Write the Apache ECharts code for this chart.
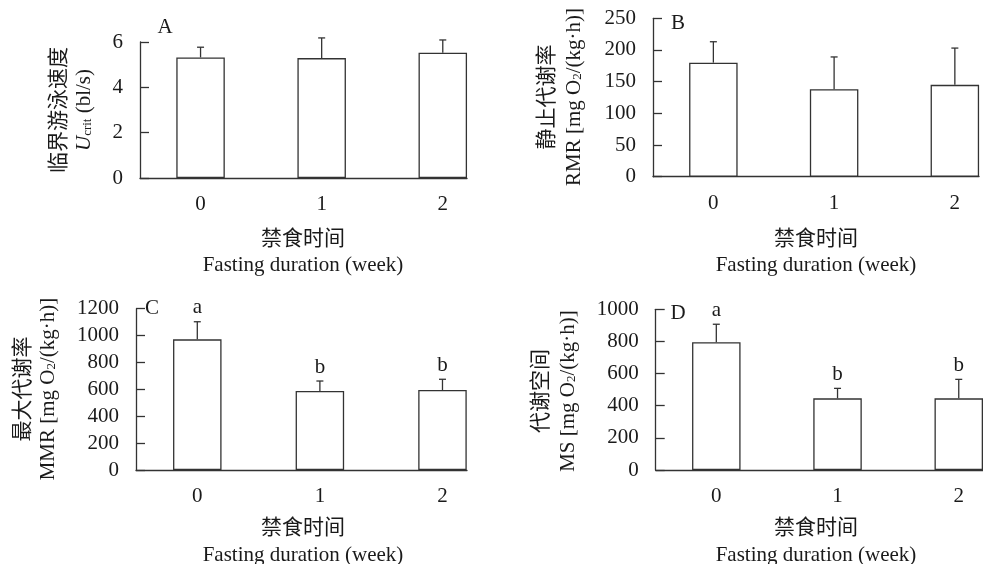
<!DOCTYPE html>
<html>
<head>
<meta charset="utf-8">
<script src="https://cdn.jsdelivr.net/npm/echarts@6/dist/echarts.min.js"></script>
<style>html,body{margin:0;padding:0;background:#fff;}#c{width:983px;height:564px;}</style>
</head>
<body>
<div id="c"></div>
<script>
// ---- data ----
const weeks = [0, 1, 2];
const weekLabels = ['0', '1', '2'];
const uMean = [5.32, 5.29, 5.53];
const uErrTop = [5.77, 6.18, 6.09];
const rmrMean = [180, 138, 145];
const rmrErrTop = [213, 189, 203];
const mmrMean = [972, 588, 595];
const mmrErrTop = [1103, 662, 675];
const msMean = [795, 446, 446];
const msErrTop = [907, 508, 564];
const mmrSig = ['a', 'b', 'b'];
const msSig = ['a', 'b', 'b'];
const uTicks = [0, 2, 4, 6];
const rmrTicks = [0, 50, 100, 150, 200, 250];
const mmrTicks = [0, 200, 400, 600, 800, 1000, 1200];
const msTicks = [0, 200, 400, 600, 800, 1000];
const panelLetters = ['A', 'B', 'C', 'D'];

// ---- style ----
const FF = "'Liberation Serif', 'Noto Sans CJK SC', serif";
const FS = 21;
const INK = '#333';
const TXT = '#1a1a1a';
const LW = 1.3;

const panels = [
  {mean: uMean, err: uErrTop, ticks: uTicks, sig: null, grid: {left: 140, top: 42, width: 327, height: 136}},
  {mean: rmrMean, err: rmrErrTop, ticks: rmrTicks, sig: null, grid: {left: 653, top: 18.3, width: 326, height: 158.4}},
  {mean: mmrMean, err: mmrErrTop, ticks: mmrTicks, sig: mmrSig, grid: {left: 136, top: 308.7, width: 331, height: 161.3}},
  {mean: msMean, err: msErrTop, ticks: msTicks, sig: msSig, grid: {left: 655.7, top: 309.3, width: 331, height: 160.7}}
];

const grid = [], xAxis = [], yAxis = [], series = [];
panels.forEach((p, k) => {
  grid.push(Object.assign({containLabel: false}, p.grid));
  xAxis.push({
    type: 'value', gridIndex: k, min: -0.5, max: 2.2, interval: 0.5,
    axisLine: {show: true, onZero: false, lineStyle: {color: INK, width: LW}},
    axisTick: {show: false}, splitLine: {show: false},
    axisLabel: {
      margin: 16, color: TXT, fontFamily: FF, fontSize: FS, showMaxLabel: false,
      formatter: v => {
        const r = Math.round(v);
        if (Math.abs(v - r) > 1e-6) return '';
        const idx = weeks.indexOf(r);
        return idx >= 0 ? weekLabels[idx] : '';
      }
    }
  });
  const t = p.ticks;
  yAxis.push({
    type: 'value', gridIndex: k, min: t[0], max: t[t.length - 1], interval: t[1] - t[0],
    axisLine: {show: true, onZero: false, lineStyle: {color: INK, width: LW}},
    axisTick: {show: true, inside: true, length: 9, lineStyle: {color: INK, width: LW}},
    splitLine: {show: false},
    axisLabel: {margin: 17, color: TXT, fontFamily: FF, fontSize: FS, padding: [3, 0, 0, 0],
      formatter: v => String(v)}
  });
  series.push({
    type: 'bar', xAxisIndex: k, yAxisIndex: k, barWidth: 48.5,
    data: weeks.map((w, i) => [w, p.mean[i]]),
    itemStyle: {color: '#fff', borderColor: INK, borderWidth: LW},
    silent: true
  });
  const sig = p.sig;
  series.push({
    type: 'custom', xAxisIndex: k, yAxisIndex: k,
    data: weeks.map((w, i) => [w, p.mean[i], p.err[i]]),
    encode: {x: 0, y: [1, 2]},
    renderItem: (params, api) => {
      const x = api.value(0), m = api.value(1), e = api.value(2);
      const p0 = api.coord([x, m]), p1 = api.coord([x, e]);
      const st = {stroke: INK, lineWidth: LW};
      const children = [
        {type: 'line', shape: {x1: p0[0], y1: p0[1], x2: p1[0], y2: p1[1]}, style: st},
        {type: 'line', shape: {x1: p1[0] - 3.5, y1: p1[1], x2: p1[0] + 3.5, y2: p1[1]}, style: st}
      ];
      if (sig) {
        children.push({type: 'text', x: p1[0], y: p1[1] - 14,
          style: {text: sig[params.dataIndex], fill: TXT, fontFamily: FF, fontSize: FS,
                  align: 'center', verticalAlign: 'middle', textAlign: 'center', textVerticalAlign: 'middle'}});
      }
      return {type: 'group', children: children};
    },
    silent: true
  });
});

function txt(text, x, y, rot, rich) {
  const style = {text: text, fill: TXT, fontFamily: FF, fontSize: FS,
    align: 'center', verticalAlign: 'middle', textAlign: 'center', textVerticalAlign: 'middle'};
  if (rich) style.rich = rich;
  return {type: 'text', x: x, y: y, rotation: rot || 0, style: style, silent: true};
}
const rich = {
  i: {fontStyle: 'italic', fontFamily: FF, fontSize: FS, fill: TXT, color: TXT},
  s: {fontFamily: FF, fontSize: 13, verticalAlign: 'bottom', fill: TXT, color: TXT}
};
const R = Math.PI / 2;
const graphic = [
  txt(panelLetters[0], 165, 27), txt(panelLetters[1], 678, 23),
  txt(panelLetters[2], 152, 308), txt(panelLetters[3], 678, 313),
  // y-axis names
  txt('临界游泳速度', 59, 110, R), txt('{i|U}{s|crit} (bl/s)', 84, 110, R, rich),
  txt('静止代谢率', 547, 97, R), txt('RMR [mg O{s|2}/(kg·h)]', 574, 97, R, rich),
  txt('最大代谢率', 23, 389, R), txt('MMR [mg O{s|2}/(kg·h)]', 48, 389, R, rich),
  txt('代谢空间', 541, 391, R), txt('MS [mg O{s|2}/(kg·h)]', 568, 391, R, rich),
  // x-axis names
  txt('禁食时间', 303, 239), txt('Fasting duration (week)', 303, 265),
  txt('禁食时间', 816, 239), txt('Fasting duration (week)', 816, 265),
  txt('禁食时间', 303, 528), txt('Fasting duration (week)', 303, 555),
  txt('禁食时间', 816, 528), txt('Fasting duration (week)', 816, 555)
];

const chart = echarts.init(document.getElementById('c'), null, {renderer: 'canvas'});
chart.setOption({
  animation: false,
  backgroundColor: '#fff',
  textStyle: {fontFamily: FF},
  grid: grid, xAxis: xAxis, yAxis: yAxis, series: series, graphic: graphic
});
</script>
</body>
</html>
